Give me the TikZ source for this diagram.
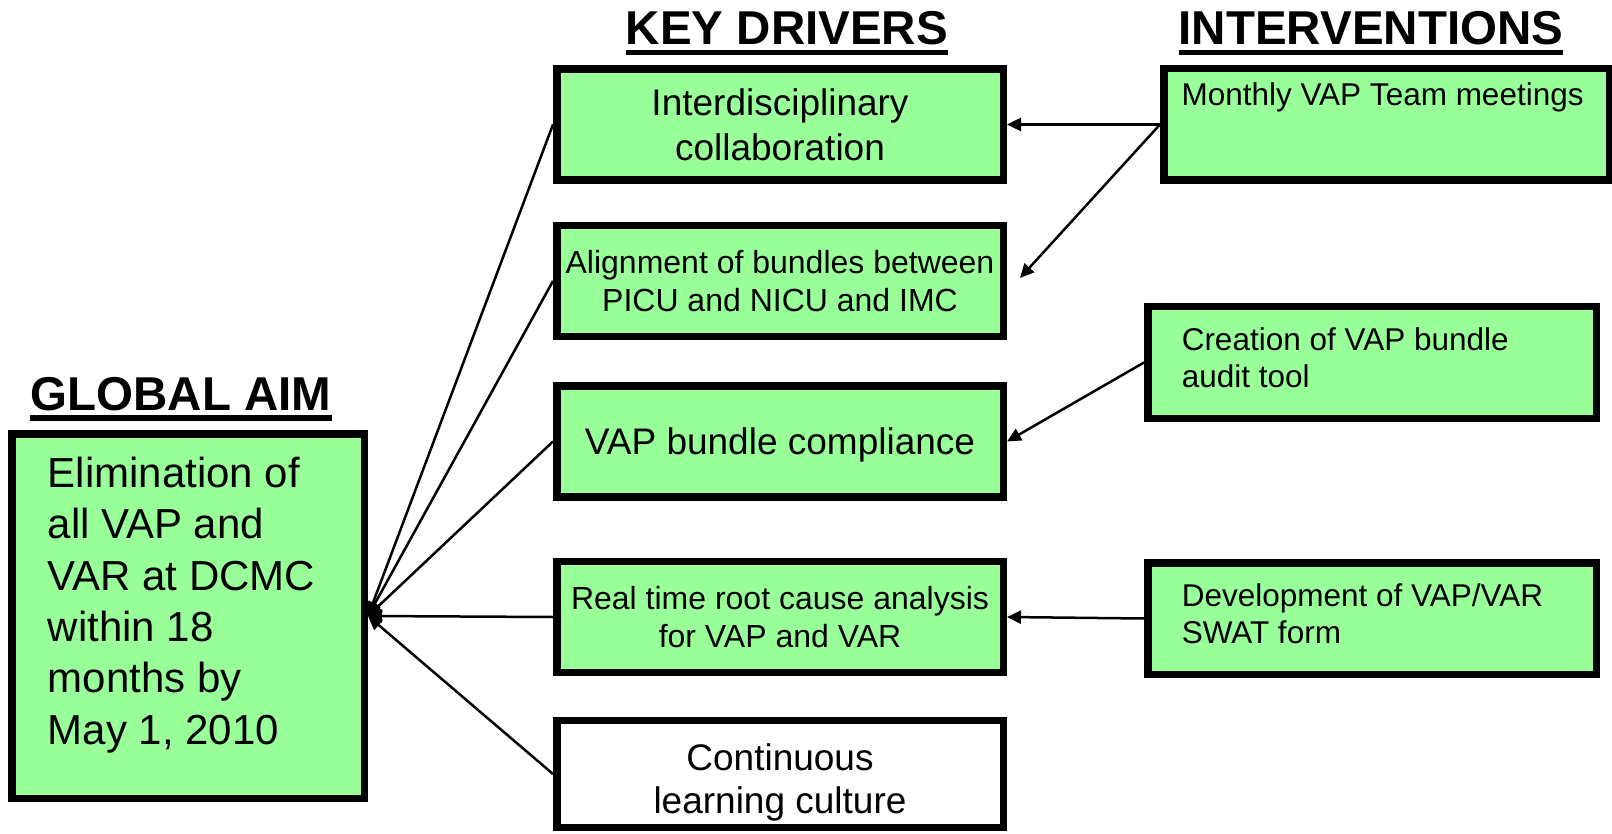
\documentclass[tikz,border=0pt]{standalone}
\usepackage{fontspec}
\setmainfont{Liberation Sans}
\usetikzlibrary{arrows.meta}
\definecolor{aimgreen}{RGB}{153,255,153}

\begin{document}
\begin{tikzpicture}[x=1pt,y=-1pt,
  drvbox/.style={draw=black,line width=7.5pt,fill=aimgreen,minimum width=446.5pt,minimum height=111pt,inner sep=0pt,align=center,text depth=0pt},
  bigtext/.style={font=\fontsize{37}{44.4}\selectfont},
  smalltext/.style={font=\fontsize{32}{38.4}\selectfont},
  actbox/.style={draw=black,line width=7.5pt,fill=aimgreen,anchor=north west},
  coltitle/.style={font=\fontsize{47.5}{57}\selectfont\bfseries,inner sep=0pt,anchor=base},
  link/.style={line width=2.5pt,-{Triangle[length=14pt,width=13pt]}}]
\useasboundingbox (0,0) rectangle (1612,834);

% column titles
\node[coltitle] (aimtitle) at (181,410) {GLOBAL AIM};
\node[coltitle] (drvtitle) at (787,45) {KEY DRIVERS};
\node[coltitle] (acttitle) at (1371,45) {INTERVENTIONS};
\draw[line width=6pt] ([yshift=-8pt]aimtitle.base west) -- ([yshift=-8pt]aimtitle.base east);
\draw[line width=5pt] ([yshift=-7.5pt]drvtitle.base west) -- ([yshift=-7.5pt]drvtitle.base east);
\draw[line width=5pt] ([yshift=-7.5pt]acttitle.base west) -- ([yshift=-7.5pt]acttitle.base east);

% global aim
\node[actbox,inner xsep=36pt,inner ysep=23.5pt] (aim) at (8,430)
  {\parbox[t][317.5pt][t]{280.5pt}{\fontsize{42}{51.3}\selectfont
   Elimination of\\all VAP and\\VAR at DCMC\\within 18\\months by\\May 1, 2010}};

% key drivers
\node[drvbox,bigtext] (drv1) at (780,124.5) {Interdisciplinary\\collaboration};
\node[drvbox,smalltext] (drv2) at (780,281) {Alignment of bundles between\\PICU and NICU and IMC};
\node[drvbox,bigtext] (drv3) at (780,441.5) {VAP bundle compliance};
\node[drvbox,smalltext] (drv4) at (780,617) {Real time root cause analysis\\for VAP and VAR};
\node[drvbox,font=\fontsize{37}{43}\selectfont,fill=white,minimum height=107pt,text height=78pt] (drv5) at (780,774) {Continuous\\learning culture};

% interventions
\node[actbox,inner xsep=17.75pt,inner ysep=13.7pt] (act1) at (1160,65)
  {\parbox[t][84.1pt][t]{410pt}{\fontsize{31.5}{37.8}\selectfont Monthly VAP Team meetings}};
\node[actbox,inner xsep=34pt,inner ysep=20.6pt] (act2) at (1144,303)
  {\parbox[t][70.3pt][t]{380.5pt}{\fontsize{31.5}{37.8}\selectfont Creation of VAP bundle\\audit tool}};
\node[actbox,inner xsep=34pt,inner ysep=20.6pt] (act3) at (1144,559)
  {\parbox[t][70.3pt][t]{380.5pt}{\fontsize{31.5}{37.8}\selectfont Development of VAP/VAR\\SWAT form}};

% drivers to aim
\draw[link] (drv1.west) -- (aim.east);
\draw[link] (drv2.west) -- (aim.east);
\draw[link] (drv3.west) -- (aim.east);
\draw[link] (drv4.west) -- (aim.east);
\draw[link] (drv5.west) -- (aim.east);

% interventions to drivers
\coordinate (gap2) at (1020,278);
\draw[link] (act1.west) -- (drv1.east);
\draw[link] (act1.west) -- (gap2);
\draw[link] (act2.west) -- (drv3.east);
\draw[link] (act3.west) -- (drv4.east);
\end{tikzpicture}
\end{document}
